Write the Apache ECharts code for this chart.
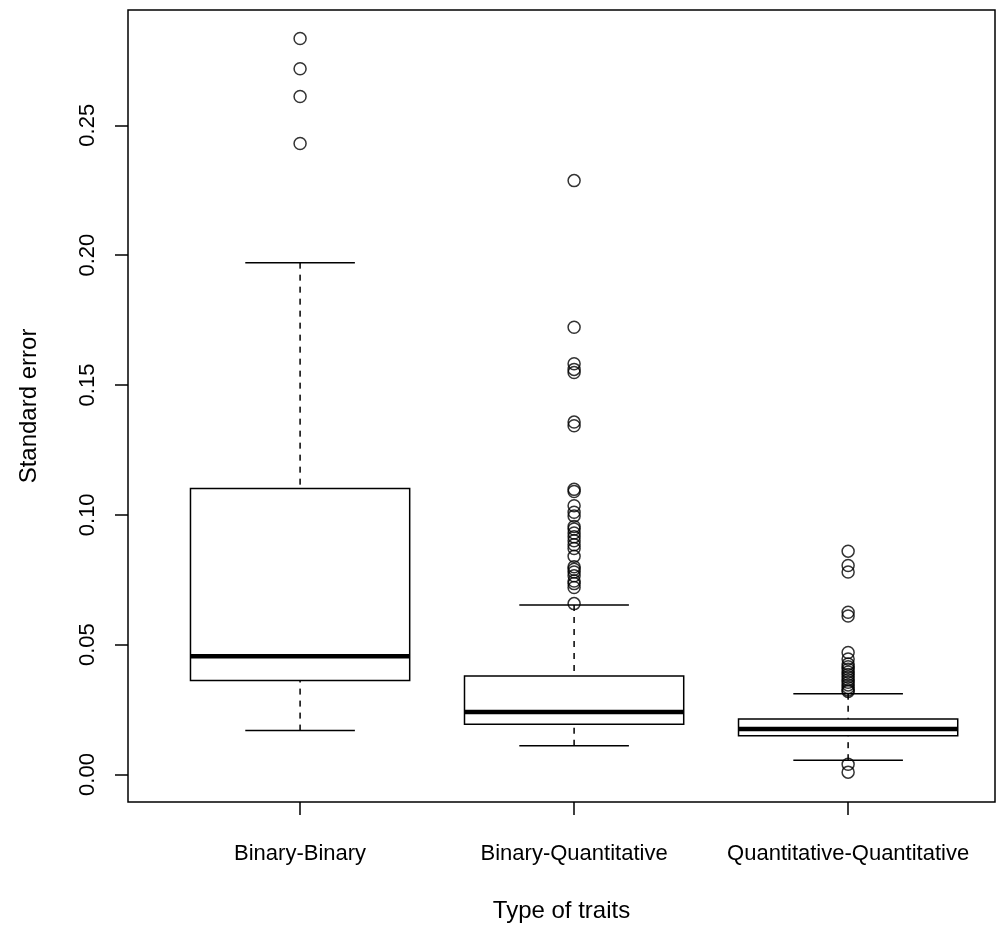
<!DOCTYPE html>
<html>
<head>
<meta charset="utf-8">
<script src="https://cdn.jsdelivr.net/npm/echarts@6/dist/echarts.min.js"></script>
<style>
html,body{margin:0;padding:0;background:#fff;}
#chart{width:1008px;height:929px;}
</style>
</head>
<body>
<div id="chart"></div>
<script>
// ---- data ----
var categories = ['Binary-Binary', 'Binary-Quantitative', 'Quantitative-Quantitative'];
// [lower whisker, Q1, median, Q3, upper whisker]
var boxBinBin   = [0.0169, 0.0362, 0.0455, 0.1101, 0.1971];
var boxBinQuant = [0.0111, 0.0193, 0.0241, 0.0379, 0.0653];
var boxQuantQuant = [0.0055, 0.0149, 0.0175, 0.0214, 0.0311];
var outBinBin = [0.2834, 0.2718, 0.2611, 0.2430];
var outBinQuant = [0.2287, 0.1722, 0.1582, 0.1560, 0.1548, 0.1357, 0.1343, 0.1098, 0.1090,
  0.1035, 0.1010, 0.0995, 0.0955, 0.0945, 0.0930, 0.0915, 0.0900, 0.0885, 0.0870, 0.0840,
  0.0800, 0.0790, 0.0780, 0.0765, 0.0745, 0.0735, 0.0720, 0.0658];
var outQuantQuant = [0.0860, 0.0805, 0.0780, 0.0625, 0.0610, 0.0470, 0.0445, 0.0425, 0.0415,
  0.0405, 0.0395, 0.0385, 0.0375, 0.0365, 0.0355, 0.0345, 0.0335, 0.0325, 0.0320,
  0.0039, 0.0009];
var yTicks = [0, 0.05, 0.10, 0.15, 0.20, 0.25];
var xTicks = [1, 2, 3];

// ---- build ----
var boxes = [boxBinBin, boxBinQuant, boxQuantQuant];
var outs = [outBinBin, outBinQuant, outQuantQuant];
var boxData = boxes.map(function (b, i) { return [i + 1].concat(b); });
var outData = [];
outs.forEach(function (arr, i) { arr.forEach(function (v) { outData.push([i + 1, v]); }); });

var FONT = 'Liberation Sans, Arial, Helvetica, sans-serif';
var chart = echarts.init(document.getElementById('chart'), null, {renderer: 'canvas'});

function renderBox(params, api) {
  var x = api.value(0);
  var lo = api.value(1), q1 = api.value(2), med = api.value(3), q3 = api.value(4), hi = api.value(5);
  var hw = 0.4, sw = 0.2;
  var pLT = api.coord([x - hw, q3]);
  var pRB = api.coord([x + hw, q1]);
  var cHi = api.coord([x, hi]), cQ3 = api.coord([x, q3]);
  var cLo = api.coord([x, lo]), cQ1 = api.coord([x, q1]);
  var sL = api.coord([x - sw, hi])[0], sR = api.coord([x + sw, hi])[0];
  var mL = api.coord([x - hw, med]), mR = api.coord([x + hw, med]);
  var stroke = {stroke: '#000', lineWidth: 1.5, fill: null};
  var dashed = {stroke: '#000', lineWidth: 1.5, lineDash: [6, 6], fill: null};
  return {
    type: 'group',
    children: [
      {type: 'line', shape: {x1: cHi[0], y1: cHi[1], x2: cQ3[0], y2: cQ3[1]}, style: dashed},
      {type: 'line', shape: {x1: cLo[0], y1: cLo[1], x2: cQ1[0], y2: cQ1[1]}, style: dashed},
      {type: 'line', shape: {x1: sL, y1: cHi[1], x2: sR, y2: cHi[1]}, style: stroke},
      {type: 'line', shape: {x1: sL, y1: cLo[1], x2: sR, y2: cLo[1]}, style: stroke},
      {type: 'rect', shape: {x: pLT[0], y: pLT[1], width: pRB[0] - pLT[0], height: pRB[1] - pLT[1]},
        style: {stroke: '#000', lineWidth: 1.5, fill: '#fff'}},
      {type: 'line', shape: {x1: mL[0], y1: mL[1], x2: mR[0], y2: mR[1]},
        style: {stroke: '#000', lineWidth: 4.5}}
    ]
  };
}

chart.setOption({
  animation: false,
  backgroundColor: '#fff',
  grid: {left: 128, right: 13, top: 10, bottom: 127, show: true, borderColor: '#000', borderWidth: 1.5, backgroundColor: 'transparent'},
  xAxis: {
    type: 'value', min: 0.372, max: 3.536,
    name: 'Type of traits', nameLocation: 'middle', nameGap: 97,
    nameTextStyle: {fontFamily: FONT, fontSize: 24, color: '#000'},
    axisLine: {show: false, onZero: false},
    splitLine: {show: false},
    axisTick: {show: true, length: 13, customValues: xTicks, lineStyle: {color: '#000', width: 1.5}},
    axisLabel: {customValues: xTicks, margin: 41, fontFamily: FONT, fontSize: 22, color: '#000',
      formatter: function (v) { return categories[Math.round(v) - 1] || ''; }}
  },
  yAxis: {
    type: 'value', min: -0.0106, max: 0.2944,
    name: 'Standard error', nameLocation: 'middle', nameGap: 87, nameRotate: 90,
    nameTextStyle: {fontFamily: FONT, fontSize: 24, color: '#000'},
    axisLine: {show: false, onZero: false},
    splitLine: {show: false},
    axisTick: {show: true, length: 13, customValues: yTicks, lineStyle: {color: '#000', width: 1.5}},
    axisLabel: {customValues: yTicks, margin: 29, rotate: 90, fontFamily: FONT, fontSize: 22, color: '#000',
      formatter: function (v) { return v.toFixed(2); }}
  },
  series: [
    {type: 'custom', renderItem: renderBox, data: boxData, encode: {x: 0, y: [1, 2, 3, 4, 5]}, silent: true, z: 2},
    {type: 'scatter', data: outData, symbol: 'circle', symbolSize: 12, silent: true, z: 3,
      itemStyle: {color: 'rgba(0,0,0,0)', borderColor: '#000', borderWidth: 1.5}}
  ]
});
</script>
</body>
</html>
